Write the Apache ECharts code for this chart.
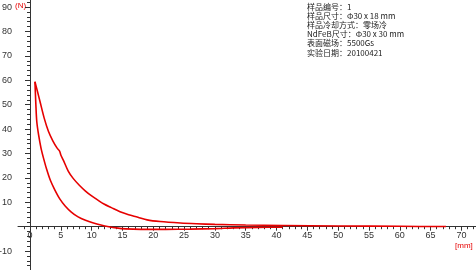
<!DOCTYPE html>
<html>
<head>
<meta charset="utf-8">
<script src="https://cdn.jsdelivr.net/npm/echarts@6/dist/echarts.min.js"></script>
<style>html,body{margin:0;padding:0;background:#fff;}#c{width:476px;height:270px;}</style>
</head>
<body>
<div id="c"></div>
<script>
// Approach curve (upper branch), from far to near
const upperX = [67.5, 60, 50, 41, 35, 30, 27, 24.4, 21.1, 19, 17.5, 16, 14.6, 13.2, 12, 11, 10, 9, 8, 7, 6.2, 5.4, 5.0, 4.8, 4.4, 3.7, 3.0, 2.3, 1.6, 1.2, 0.8];
const upperY = [0.05, 0.15, 0.3, 0.5, 0.7, 0.95, 1.2, 1.5, 2.1, 2.8, 3.9, 4.9, 6.1, 7.8, 9.3, 10.9, 12.6, 14.6, 17.0, 19.8, 22.8, 27.3, 29.4, 31.0, 32.2, 35.2, 39.0, 44.5, 51.5, 55.5, 59.4];
// Retreat curve (lower branch), from peak outwards
const lowerX = [0.8, 0.95, 1.1, 1.4, 1.8, 2.2, 2.7, 3.3, 4.0, 4.8, 5.7, 6.7, 7.8, 9, 10.3, 11.5, 12.8, 14, 15.5, 18, 22, 26, 30, 33, 37, 41];
const lowerY = [59.4, 50, 43, 37.5, 32, 28, 23.5, 19, 15.2, 11.5, 8.5, 6.0, 4.0, 2.6, 1.5, 0.7, 0.0, -0.5, -0.9, -1.1, -1.1, -1.0, -0.8, -0.5, -0.3, -0.2];
// Tick labels
const xTicks = [0, 5, 10, 15, 20, 25, 30, 35, 40, 45, 50, 55, 60, 65, 70];
const yTicks = [-10, 10, 20, 30, 40, 50, 60, 70, 80, 90];
const infoLines = ['样品编号：1', '样品尺寸：Φ30 x 18 mm', '样品冷却方式：零场冷', 'NdFeB尺寸：Φ30 x 30 mm', '表面磁场：5500Gs', '实验日期：20100421'];
const yUnit = '(N)';
const xUnit = '[mm]';

const X_MIN = -1.95, X_MAX = 72.37, Y_MIN = -17.75, Y_MAX = 92.9;
const range = (a, b, s) => { const r = []; for (let v = a; v <= b + 1e-9; v += s) r.push(+v.toFixed(6)); return r; };
const xMinor = range(-1, 72, 1);
const yMinor = range(-16, 92, 2);
const yMajor = [0].concat(yTicks);

const zip = (xs, ys) => xs.map((x, i) => [x, ys[i]]);
const red = '#e60000';
const axisColor = '#333';
const clear = 'rgba(0,0,0,0)';
// axes sit at the zero lines: x axis lifted 43.3px from bottom, y axis pushed 12px right of grid left
const X_OFF = -43.3, Y_OFF = -12;
const chart = echarts.init(document.getElementById('c'));
chart.setOption({
  animation: false,
  backgroundColor: '#fff',
  grid: { left: 18, right: 0, top: 0, bottom: 0, containLabel: false,
    outerBounds: { left: -40, right: -40, top: -40, bottom: -40 } },
  xAxis: [{
    type: 'value', min: X_MIN, max: X_MAX, position: 'bottom', offset: X_OFF,
    axisLine: { show: true, onZero: false, lineStyle: { color: axisColor, width: 1 } },
    axisTick: { show: true, length: 4, customValues: xTicks, lineStyle: { color: axisColor } },
    splitLine: { show: false },
    axisLabel: { show: true, customValues: xTicks, margin: 4, fontSize: 9, color: axisColor, fontFamily: 'Liberation Sans' }
  }, {
    type: 'value', min: X_MIN, max: X_MAX, position: 'bottom', offset: X_OFF,
    axisLine: { show: true, onZero: false, lineStyle: { color: clear } },
    axisTick: { show: true, length: 2.5, customValues: xMinor, lineStyle: { color: axisColor } },
    splitLine: { show: false },
    axisLabel: { show: false }
  }],
  yAxis: [{
    type: 'value', min: Y_MIN, max: Y_MAX, position: 'left', offset: Y_OFF,
    axisLine: { show: true, onZero: false, lineStyle: { color: axisColor, width: 1 } },
    axisTick: { show: true, length: 5, customValues: yMajor, lineStyle: { color: axisColor } },
    splitLine: { show: false },
    axisLabel: { show: true, customValues: yTicks, margin: 18, fontSize: 9, color: axisColor, fontFamily: 'Liberation Sans' }
  }, {
    type: 'value', min: Y_MIN, max: Y_MAX, position: 'left', offset: Y_OFF,
    axisLine: { show: true, onZero: false, lineStyle: { color: clear } },
    axisTick: { show: true, length: 3, customValues: yMinor, lineStyle: { color: axisColor } },
    splitLine: { show: false },
    axisLabel: { show: false }
  }],
  series: [
    { type: 'line', xAxisIndex: 0, yAxisIndex: 0, data: zip(upperX, upperY), showSymbol: false, smooth: 0.3,
      lineStyle: { color: red, width: 1.6 }, z: 5 },
    { type: 'line', xAxisIndex: 0, yAxisIndex: 0, data: zip(lowerX, lowerY), showSymbol: false, smooth: 0.3,
      lineStyle: { color: red, width: 1.6 }, z: 5 }
  ],
  graphic: [
    { type: 'text', left: 15, top: 2, style: { text: yUnit, fill: red, fontSize: 8, fontFamily: 'Liberation Sans' } },
    { type: 'text', left: 455, top: 242, style: { text: xUnit, fill: red, fontSize: 8, fontFamily: 'Liberation Sans' } },
    { type: 'text', left: 307, top: 2, style: { text: infoLines.join('\n'), fill: '#222', fontSize: 8, lineHeight: 9.2, fontFamily: 'Noto Sans CJK SC' } }
  ]
});
</script>
</body>
</html>
